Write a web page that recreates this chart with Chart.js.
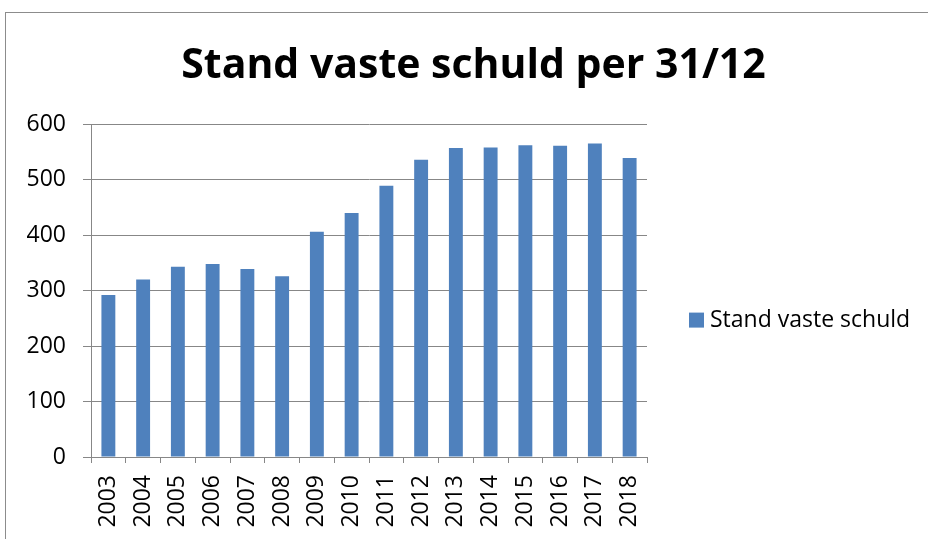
<!DOCTYPE html>
<html>
<head>
<meta charset="utf-8">
<script src="https://cdn.jsdelivr.net/npm/chart.js@4/dist/chart.umd.min.js"></script>
<style>
  html, body { margin: 0; padding: 0; background: #fff; overflow: hidden; }
  .frame { position: absolute; left: 5px; top: 12px; width: 1000px; height: 1000px; border: 1px solid #8c8c8c; }
  #chart { position: absolute; left: 0; top: 0; }
</style>
</head>
<body>
<div class="frame"></div>
<canvas id="chart" width="928" height="539"></canvas>
<script>
const years = ["2003", "2004", "2005", "2006", "2007", "2008", "2009", "2010",
  "2011", "2012", "2013", "2014", "2015", "2016", "2017", "2018"];
const schuld = [292, 320, 343, 348, 339, 326, 406, 440, 489, 536, 557, 558, 562, 561, 565, 539];
const seriesName = "Stand vaste schuld";
const chartTitle = "Stand vaste schuld per 31/12";
const yTicks = [0, 100, 200, 300, 400, 500, 600];

const barColor = "#4f81bd";
const gridColor = "#878787";

// legend on the right, drawn next to the plot area
const sideLegend = {
  id: "sideLegend",
  afterDraw(chart) {
    const { ctx, chartArea } = chart;
    const ds = chart.data.datasets[0];
    const x = chartArea.right + 42;
    const y = (chartArea.top + chartArea.bottom) / 2 + 29;
    ctx.save();
    ctx.fillStyle = ds.backgroundColor;
    ctx.fillRect(x, y - 7, 15, 15);
    ctx.fillStyle = "#000";
    ctx.font = "23px 'Open Sans'";
    ctx.textBaseline = "middle";
    ctx.fillText(ds.label, x + 21, y + 1);
    ctx.restore();
  }
};

const canvas = document.getElementById("chart");
new Chart(canvas, {
  type: "bar",
  data: {
    labels: years,
    datasets: [{
      label: seriesName,
      data: schuld,
      backgroundColor: barColor,
      borderWidth: 0,
      categoryPercentage: 1,
      barPercentage: 0.4
    }]
  },
  options: {
    responsive: false,
    animation: false,
    layout: { padding: { left: 19, right: 0, top: 0, bottom: 0 } },
    plugins: {
      legend: { display: false },
      tooltip: { enabled: false },
      title: {
        display: true,
        text: chartTitle,
        color: "#000",
        font: { family: "'Open Sans'", size: 41, weight: "bold" },
        padding: { top: 42, bottom: 33 }
      }
    },
    scales: {
      x: {
        afterFit(scale) { scale.height = 82; },
        grid: { color: gridColor, drawOnChartArea: false, tickLength: 6, offset: true },
        border: { color: gridColor },
        ticks: {
          color: "#000",
          font: { family: "'Open Sans'", size: 23 },
          maxRotation: 90,
          minRotation: 90,
          padding: 12
        }
      },
      y: {
        min: 0,
        max: 600,
        afterBuildTicks(scale) {
          scale.ticks = yTicks.map(v => ({ value: v }));
        },
        afterFit(scale) { scale.width = 72; },
        grid: { color: gridColor, tickLength: 8 },
        border: { color: gridColor },
        ticks: {
          color: "#000",
          font: { family: "'Open Sans'", size: 23 },
          padding: 17
        }
      },
      // empty space on the right for the legend
      side: {
        type: "linear",
        position: "right",
        afterFit(scale) { scale.width = 281; },
        grid: { display: false },
        border: { display: false },
        ticks: { display: false }
      }
    }
  },
  plugins: [sideLegend]
});
</script>
</body>
</html>
